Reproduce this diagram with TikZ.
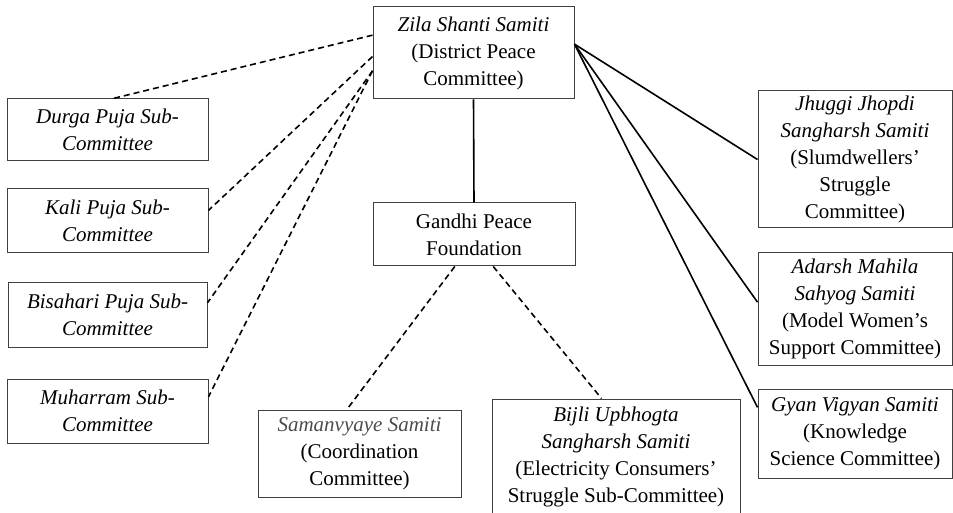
\documentclass[tikz,border=0pt]{standalone}
\usepackage{fontspec}
\setmainfont{Liberation Serif}
\tikzset{
  orgbox/.style={draw=black!75, line width=0.5pt, align=center, inner sep=0pt,
    font=\fontsize{10.5}{13.5}\selectfont},
  link/.style={line width=0.8pt},
  dashlink/.style={line width=0.8pt, dash pattern=on 3pt off 2pt}
}
\begin{document}
\begin{tikzpicture}[x=0.5pt, y=-0.5pt]
  \useasboundingbox (0,0) rectangle (953,513);

  % top committee and the foundation below it
  \node[orgbox, minimum width=100.5pt, minimum height=46pt] (zila) at (473.5,53)
    {\textit{Zila Shanti Samiti}\\(District Peace\\Committee)};
  \node[orgbox, minimum width=101pt, minimum height=31.5pt] (gandhi) at (474,234.5)
    {Gandhi Peace\\Foundation};

  % puja sub-committees on the left
  \node[orgbox, minimum width=100.5pt, minimum height=31pt] (durga) at (107.5,130)
    {\textit{Durga Puja Sub-}\\\textit{Committee}};
  \node[orgbox, minimum width=100.5pt, minimum height=32pt] (kali) at (107.5,221)
    {\textit{Kali Puja Sub-}\\\textit{Committee}};
  \node[orgbox, minimum width=99.5pt, minimum height=32pt] (bisahari) at (107.5,315)
    {\textit{Bisahari Puja Sub-}\\\textit{Committee}};
  \node[orgbox, minimum width=100.5pt, minimum height=32pt] (muharram) at (107.5,411)
    {\textit{Muharram Sub-}\\\textit{Committee}};

  % under the foundation
  \node[orgbox, minimum width=101.5pt, minimum height=43.5pt] (samanvyaye) at (359.5,453.5)
    {\textcolor{black!70}{\textit{Samanvyaye Samiti}}\\(Coordination\\Committee)};
  \node[orgbox, minimum width=124pt, minimum height=57.5pt] (bijli) at (616,456.5)
    {\textit{Bijli Upbhogta}\\\textit{Sangharsh Samiti}\\(Electricity Consumers'\\Struggle Sub-Committee)};

  % samitis on the right
  \node[orgbox, minimum width=97pt, minimum height=68.5pt] (jhuggi) at (855,159.5)
    {\textit{Jhuggi Jhopdi}\\\textit{Sangharsh Samiti}\\(Slumdwellers'\\Struggle\\Committee)};
  \node[orgbox, minimum width=97pt, minimum height=56pt] (adarsh) at (855,309)
    {\textit{Adarsh Mahila}\\\textit{Sahyog Samiti}\\(Model Women's\\Support Committee)};
  \node[orgbox, minimum width=97pt, minimum height=44.5pt] (gyan) at (855,433.5)
    {\textit{Gyan Vigyan Samiti}\\(Knowledge\\Science Committee)};

  % connectors
  \draw[link] (zila.south) -- (gandhi.north);
  \draw[dashlink] (zila.170) -- (durga.80);
  \draw[dashlink] (zila.182) -- (kali.6);
  \draw[dashlink] (zila.190.5) -- (bisahari.7);
  \draw[dashlink] (zila.190.5) -- (muharram.8);
  \draw[dashlink] (gandhi.-121) -- (samanvyaye.106);
  \draw[dashlink] (gandhi.-59) -- (bijli.104);
  \draw[link] (zila.5) -- (jhuggi.west);
  \draw[link] (zila.5) -- (adarsh.176);
  \draw[link] (zila.5) -- (gyan.165);
\end{tikzpicture}
\end{document}
